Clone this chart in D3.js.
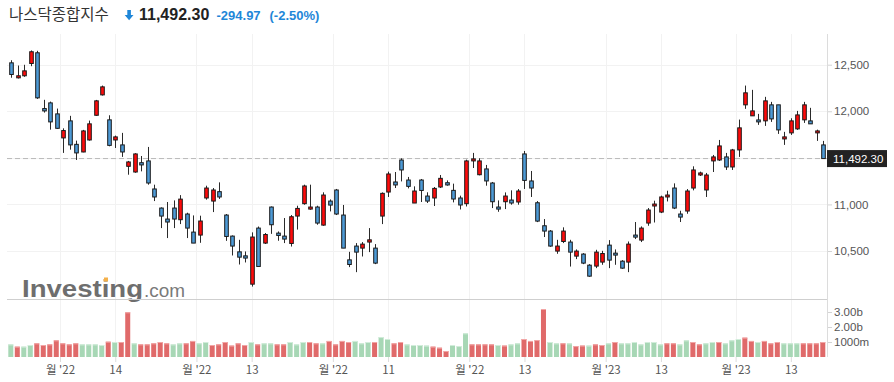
<!DOCTYPE html>
<html>
<head>
<meta charset="utf-8">
<script src="https://cdn.jsdelivr.net/npm/d3@7"></script>
<style>
  html, body { margin: 0; padding: 0; background: #fff; }
  svg { display: block; }
</style>
</head>
<body>
<svg id="chart" width="894" height="382"></svg>
<script>
// ---------------- DATA ----------------
const title = "나스닥종합지수";
const lastPrice = 11492.30;
const changeText = "-294.97";
const changePctText = "(-2.50%)";

const opens = [12520,12359,12381,12513,12628,12029,12090,11972,11714,11897,11645,11563,11692,11957,12176,11908,11692,11639,11409,11348,11448,11467,11166,10961,10843,10961,10836,10897,10703,10671,11069,11036,11137,10886,10660,10491,10448,10144,10746,10585,10972,10692,10660,10581,10875,11008,10950,10972,10778,11036,11155,10886,10405,10553,10531,10596,10531,10875,11133,11241,11477,11262,11015,11262,11090,11069,11187,11233,11151,11069,11008,11467,11319,11381,11230,10972,11029,11047,11026,11542,11252,11018,10771,10714,10499,10602,10596,10445,10467,10348,10338,10381,10563,10477,10391,10381,10671,10617,10800,10983,10918,11080,11176,10897,10929,11176,11316,11155,11467,11477,11510,11402,11585,12069,11951,11907,11897,12069,12069,11703,11768,11811,11908,11897,11768,11639];
const highs = [12548,12491,12499,12653,12649,12123,12104,12029,11817,11951,11685,11800,11900,12122,12276,11957,11739,11768,11467,11550,11520,11617,11212,10968,11026,11043,11100,10911,10882,10879,11201,11176,11237,10897,10667,10620,10495,10700,10763,10693,10978,10710,10854,10886,10986,11212,11212,10986,11130,11054,11166,10994,10491,10585,10596,10746,10574,11129,11352,11348,11495,11295,11194,11273,11130,11187,11316,11258,11223,11094,11481,11553,11495,11424,11241,11043,11129,11151,11165,11574,11359,11036,10843,10725,10620,10754,10620,10517,10477,10359,10513,10502,10617,10517,10402,10602,10811,10764,10961,11040,11094,11147,11226,10932,11165,11409,11352,11338,11531,11692,11553,11596,11911,12276,12230,11972,12155,12101,12069,11779,11925,12004,12101,12037,11803,11682];
const lows = [12360,12352,12370,12484,12133,11986,11803,11811,11553,11588,11477,11560,11685,11951,12169,11624,11606,11510,11319,11340,11355,11212,11036,10746,10639,10746,10789,10639,10585,10588,11051,10918,11059,10609,10452,10355,10377,10118,10334,10575,10684,10610,10585,10548,10730,10997,10943,10782,10771,10925,10886,10531,10327,10273,10441,10488,10359,10789,11080,11176,11247,11172,11015,11026,11015,10983,11176,11201,11022,10946,10978,11391,11312,11201,10961,10921,10950,10997,10997,11166,11080,10810,10650,10545,10470,10585,10333,10413,10359,10223,10316,10352,10316,10352,10309,10273,10628,10596,10771,10806,10907,11032,10950,10811,10900,11151,11305,11080,11348,11467,11370,11370,11510,12026,11951,11854,11843,11886,11757,11639,11746,11800,11875,11865,11682,11492.3];
const closes = [12395,12381,12434,12639,12144,12004,11886,11817,11793,11639,11553,11789,11865,12112,12262,11634,11725,11563,11456,11542,11424,11230,11080,10875,10811,10843,11057,10746,10585,10822,11176,11155,11080,10656,10553,10434,10424,10650,10334,10677,10782,10667,10628,10868,10957,11198,10972,10800,11101,10993,10897,10531,10355,10488,10574,10620,10370,11119,11327,11209,11370,11194,11144,11150,11036,11172,11280,11209,11058,10994,11467,11488,11467,11252,11029,10950,11090,11015,11144,11258,11176,10821,10714,10553,10553,10714,10488,10499,10370,10230,10488,10473,10402,10456,10316,10574,10649,10746,10940,11004,11080,11101,10961,10864,11144,11370,11338,11316,11510,11628,11402,11585,11822,12198,12004,11886,12112,11918,11800,11725,11897,11961,12069,11865,11789,11492.3];
// volume in billions, and its bar colour key (g = green, r = red)
const volumes = [0.84,0.69,0.69,0.80,0.91,0.80,0.84,1.11,0.91,0.84,0.91,0.84,0.84,0.84,0.80,1.02,1.00,1.00,2.98,0.91,0.84,0.84,0.91,1.00,0.91,0.84,0.91,0.91,1.07,0.91,1.00,0.80,0.84,1.00,0.76,0.91,0.80,1.00,0.84,0.91,0.91,0.84,0.84,1.00,0.84,1.00,1.00,0.91,0.91,1.07,0.84,1.07,1.00,1.07,0.91,1.00,1.00,1.33,1.20,0.91,1.00,0.84,0.80,0.80,0.76,0.69,0.62,0.40,0.80,0.73,1.58,0.84,0.84,0.84,0.84,0.80,0.76,0.84,0.91,1.20,1.07,1.13,3.20,1.00,0.91,0.91,0.91,0.73,0.76,0.76,0.84,0.80,0.91,1.00,0.91,0.91,1.00,0.84,1.00,1.00,0.84,0.91,0.91,0.84,1.11,1.00,0.84,0.91,1.00,1.00,0.91,1.11,1.20,1.29,1.07,1.00,1.07,0.91,1.00,0.91,0.91,0.91,0.91,0.91,0.91,1.00];
const volColors = "grggrrrrrrrggggrgrrgrrrrrggrrggrrrrrrgrggrrgggrrgrrrrgggrggrrggggrrrgggrrrrgrggrrrrggrgrrgrrgrgggggggrrggrrggrgggrrgrrrgggrrr".split("");
const priceTicks = [10500, 11000, 12000, 12500];
const priceGrid = [10500, 11000, 11500, 12000, 12500];
const volTicks = [1, 2, 3];
const volTickLabels = ["1000m", "2.00b", "3.00b"];
const xTickPos = [7.5, 16, 28.5, 37, 49.5, 58, 70.5, 79, 91.5, 100, 111.5, 120];
const xTickLabels = ["월 '22", "14", "월 '22", "13", "월 '22", "11", "월 '22", "13", "월 '23", "13", "월 '23", "13"];

// ---------------- LAYOUT ----------------
const svg = d3.select("#chart");
const W = 894, H = 382;
const plotLeft = 7, plotRight = 827;
const priceTop = 34, priceBottom = 299;
const volTop = 299, volBottom = 357;
const numFont = "'Liberation Sans', Arial, sans-serif";

const n = closes.length;
const x = d3.scaleLinear().domain([0, n - 1]).range([11.3, 823.3]);
const y = d3.scaleLinear().domain([10500, 12500]).range([251, 64.7]);
const yv = d3.scaleLinear().domain([0, 3]).range([volBottom, 312]);

// ---------------- HEADER ----------------
svg.append("text").attr("x", 9).attr("y", 20)
  .attr("font-family", "'Noto Sans CJK KR', sans-serif").attr("font-size", 15.5)
  .attr("fill", "#333").text(title);
// down arrow icon
svg.append("path")
  .attr("d", "M127.3,10 h3.6 v5 h2.6 l-4.4,5.3 l-4.4,-5.3 h2.6 z")
  .attr("fill", "#1f87d8");
svg.append("text").attr("x", 139).attr("y", 20)
  .attr("font-family", numFont).attr("font-size", 16).attr("font-weight", "bold")
  .attr("fill", "#222").text(d3.format(",.2f")(lastPrice));
svg.append("text").attr("x", 216.5).attr("y", 20)
  .attr("font-family", numFont).attr("font-size", 13).attr("font-weight", "bold")
  .attr("fill", "#1f87d8").text(changeText);
svg.append("text").attr("x", 269.5).attr("y", 20)
  .attr("font-family", numFont).attr("font-size", 13).attr("font-weight", "bold")
  .attr("fill", "#1f87d8").text(changePctText);

// ---------------- GRID ----------------
const grid = svg.append("g");
grid.selectAll("line.h").data(priceGrid).join("line")
  .attr("x1", plotLeft).attr("x2", plotRight)
  .attr("y1", d => Math.round(y(d)) + 0.5).attr("y2", d => Math.round(y(d)) + 0.5)
  .attr("stroke", "#f2f2f2");
grid.selectAll("line.v").data(xTickPos).join("line")
  .attr("x1", d => Math.round(x(d)) + 0.5).attr("x2", d => Math.round(x(d)) + 0.5)
  .attr("y1", priceTop).attr("y2", volBottom)
  .attr("stroke", "#f2f2f2");

// ---------------- WATERMARK ----------------
const wm = svg.append("g");
wm.append("text").attr("x", 22).attr("y", 296.5)
  .attr("font-family", numFont).attr("font-size", 23).attr("font-weight", "bold")
  .attr("textLength", 121).attr("lengthAdjust", "spacingAndGlyphs")
  .attr("fill", "#6e6e6e").text("Investing");
wm.append("text").attr("x", 144).attr("y", 296.5)
  .attr("font-family", numFont).attr("font-size", 18)
  .attr("textLength", 41).attr("lengthAdjust", "spacingAndGlyphs")
  .attr("fill", "#7a7a7a").text(".com");
wm.append("rect").attr("x", 104).attr("y", 277.5).attr("width", 4).attr("height", 4).attr("fill", "#f4b04a");

// separator between price and volume
svg.append("line").attr("x1", plotLeft).attr("x2", plotRight)
  .attr("y1", volTop + 0.5).attr("y2", volTop + 0.5).attr("stroke", "#cfcfcf");

// ---------------- LAST PRICE LINE ----------------
svg.append("line").attr("x1", plotLeft).attr("x2", plotRight)
  .attr("y1", y(lastPrice)).attr("y2", y(lastPrice))
  .attr("stroke", "#b8b8b8").attr("stroke-dasharray", "5,3");

// ---------------- VOLUME ----------------
const volG = svg.append("g");
const vw = 5;
volG.selectAll("rect.vol").data(volumes).join("rect")
  .attr("x", (d, i) => x(i) - vw / 2 - 0.5)
  .attr("y", d => yv(d))
  .attr("width", vw)
  .attr("height", d => volBottom - yv(d))
  .attr("fill", (d, i) => volColors[i] === "g" ? "#a7d7b5" : "#e06a6a");
volG.selectAll("rect.cap").data(volumes).join("rect")
  .attr("x", (d, i) => x(i) - vw / 2 - 0.5)
  .attr("y", d => yv(d))
  .attr("width", vw)
  .attr("height", 1)
  .attr("fill", (d, i) => volColors[i] === "g" ? "#d2eddb" : "#f2a5a5");

// ---------------- CANDLES ----------------
const cg = svg.append("g");
const idx = d3.range(n);
cg.selectAll("line.wick").data(idx).join("line")
  .attr("x1", i => Math.round(x(i)) + 0.5).attr("x2", i => Math.round(x(i)) + 0.5)
  .attr("y1", i => y(highs[i])).attr("y2", i => y(lows[i]))
  .attr("stroke", "#2a2a2a").attr("stroke-width", 1);
const bw = 3.6;
cg.selectAll("rect.body").data(idx).join("rect")
  .attr("x", i => Math.round(x(i)) + 0.5 - bw / 2)
  .attr("y", i => y(Math.max(opens[i], closes[i])))
  .attr("width", bw)
  .attr("height", i => Math.max(1.2, Math.abs(y(opens[i]) - y(closes[i]))))
  .attr("fill", i => closes[i] >= opens[i] ? "#ff0a0a" : "#4d9ad6")
  .attr("stroke", "#1a1a1a").attr("stroke-width", 1);

// ---------------- AXES ----------------
// right price axis
const yAxis = d3.axisRight(y).tickValues(priceTicks).tickFormat(d3.format(",")).tickSize(5).tickPadding(2);
const yAx = svg.append("g").attr("transform", `translate(${plotRight},0)`).call(yAxis);
yAx.select(".domain").remove();
yAx.selectAll(".tick line").attr("stroke", "#d4d4d4");
yAx.selectAll("text").attr("font-family", numFont).attr("font-size", 11.5).attr("fill", "#555");

// right volume axis
const vAxis = d3.axisRight(yv).tickValues(volTicks).tickFormat((d, i) => volTickLabels[i]).tickSize(5).tickPadding(2);
const vAx = svg.append("g").attr("transform", `translate(${plotRight},0)`).call(vAxis);
vAx.select(".domain").remove();
vAx.selectAll(".tick line").attr("stroke", "#d4d4d4");
vAx.selectAll("text").attr("font-family", numFont).attr("font-size", 11.5).attr("fill", "#555");

// right axis line
svg.append("line").attr("x1", plotRight + 0.5).attr("x2", plotRight + 0.5)
  .attr("y1", priceTop).attr("y2", volBottom).attr("stroke", "#dcdcdc");

// bottom axis
const xAxis = d3.axisBottom(x).tickValues(xTickPos).tickFormat((d, i) => xTickLabels[i]).tickSize(5).tickPadding(4);
const xAx = svg.append("g").attr("transform", `translate(0,${volBottom})`).call(xAxis);
xAx.select(".domain").remove();
xAx.selectAll(".tick line").attr("stroke", "#dcdcdc");
xAx.selectAll("text").attr("font-family", "'Noto Sans CJK KR', sans-serif").attr("font-size", 11.5).attr("fill", "#555");

// last price box
const lp = svg.append("g");
lp.append("rect").attr("x", plotRight).attr("y", y(lastPrice) - 8.5).attr("width", 60).attr("height", 17).attr("fill", "#222");
lp.append("text").attr("x", plotRight + 6).attr("y", y(lastPrice) + 4.3)
  .attr("font-family", numFont).attr("font-size", 11.5).attr("fill", "#fff")
  .text(d3.format(",.2f")(lastPrice));
</script>
</body>
</html>
